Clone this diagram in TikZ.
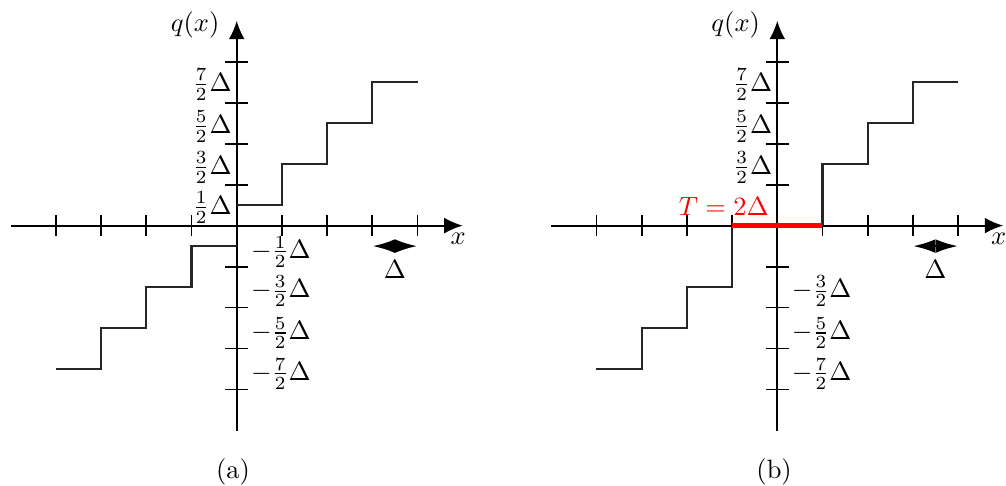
\documentclass[tikz,border=0pt]{standalone}
\usetikzlibrary{arrows.meta}
\tikzset{
  axisline/.style={line width=0.7pt, -{Latex[length=7pt,width=6pt]}},
  tickline/.style={line width=0.7pt},
  stair/.style={line width=0.8pt, black!85},
  stepsize/.style={<->, >={Latex[length=8.5pt,width=5.2pt]}, line width=1pt},
}
\begin{document}
\begin{tikzpicture}[x=0.6cm, y=0.544cm]
\useasboundingbox (-5.237,-6.349) rectangle (17.02,5.505);
% (a)
\begin{scope}
        \draw[axisline] (-5,0) -- (5,0);
        \draw[axisline] (0,-5) -- (0,5);
        \foreach \k in {-4,-3,-2,-1,1,2,3,4} {
                \draw[tickline] (\k,-0.25) -- (\k,0.25);
                \draw[tickline] (-0.25,\k) -- (0.25,\k);
        }
        \draw[stair] (-4,-3.5) -- (-3,-3.5) -- (-3,-2.5) -- (-2,-2.5) -- (-2,-1.5) -- (-1,-1.5) -- (-1,-0.5) -- (0,-0.5);
        \draw[stair] (0,0.5) -- (1,0.5) -- (1,1.5) -- (2,1.5) -- (2,2.5) -- (3,2.5) -- (3,3.5) -- (4,3.5);
        \foreach \n/\y in {1/0.44, 3/1.42, 5/2.42, 7/3.44}
                \node[anchor=east, inner sep=0.5pt] (aup\n) at (-0.07,\y) {$\frac{\n}{2}\Delta$};
        \foreach \n/\y in {1/-0.64, 3/-1.6, 5/-2.62, 7/-3.62}
                \node[anchor=west, inner sep=0.5pt] (adn\n) at (0.28,\y) {$-\frac{\n}{2}\Delta$};
        \node (aq) at (-0.92,4.9) {$q(x)$};
        \node (ax) at (4.9,-0.33) {$x$};
        \draw[stepsize] (3,-0.5) --node[midway, below, yshift=-1.5pt] (adelta) {$\Delta$} (4,-0.5);
        \node (acap) at (-0.08,-6) {(a)};
\end{scope}
% (b)
\begin{scope}[xshift=7.176cm]
        \draw[axisline] (-5,0) -- (5,0);
        \draw[axisline] (0,-5) -- (0,5);
        \foreach \k in {-4,-3,-2,-1,1,2,3,4} {
                \draw[tickline] (\k,-0.25) -- (\k,0.25);
                \draw[tickline] (-0.25,\k) -- (0.25,\k);
        }
        \draw[stair] (-4,-3.5) -- (-3,-3.5) -- (-3,-2.5) -- (-2,-2.5) -- (-2,-1.5) -- (-1,-1.5) -- (-1,0);
        \draw[stair] (1,0) -- (1,1.5) -- (2,1.5) -- (2,2.5) -- (3,2.5) -- (3,3.5) -- (4,3.5);
        \draw[red, line width=1.6pt] (-1,0) -- (1,0);
        \foreach \n/\y in {3/1.42, 5/2.42, 7/3.44}
                \node[anchor=east, inner sep=0.5pt] (bup\n) at (-0.07,\y) {$\frac{\n}{2}\Delta$};
        \foreach \n/\y in {3/-1.6, 5/-2.62, 7/-3.62}
                \node[anchor=west, inner sep=0.5pt] (bdn\n) at (0.28,\y) {$-\frac{\n}{2}\Delta$};
        \node[red, anchor=east, inner sep=1pt] (bT) at (-0.12,0.46) {$T=2\Delta$};
        \node (bq) at (-0.92,4.9) {$q(x)$};
        \node (bx) at (4.9,-0.33) {$x$};
        \draw[stepsize] (3,-0.5) --node[midway, below, yshift=-1.5pt] (bdelta) {$\Delta$} (4,-0.5);
        \node (bcap) at (-0.07,-6) {(b)};
\end{scope}
\end{tikzpicture}
\end{document}
